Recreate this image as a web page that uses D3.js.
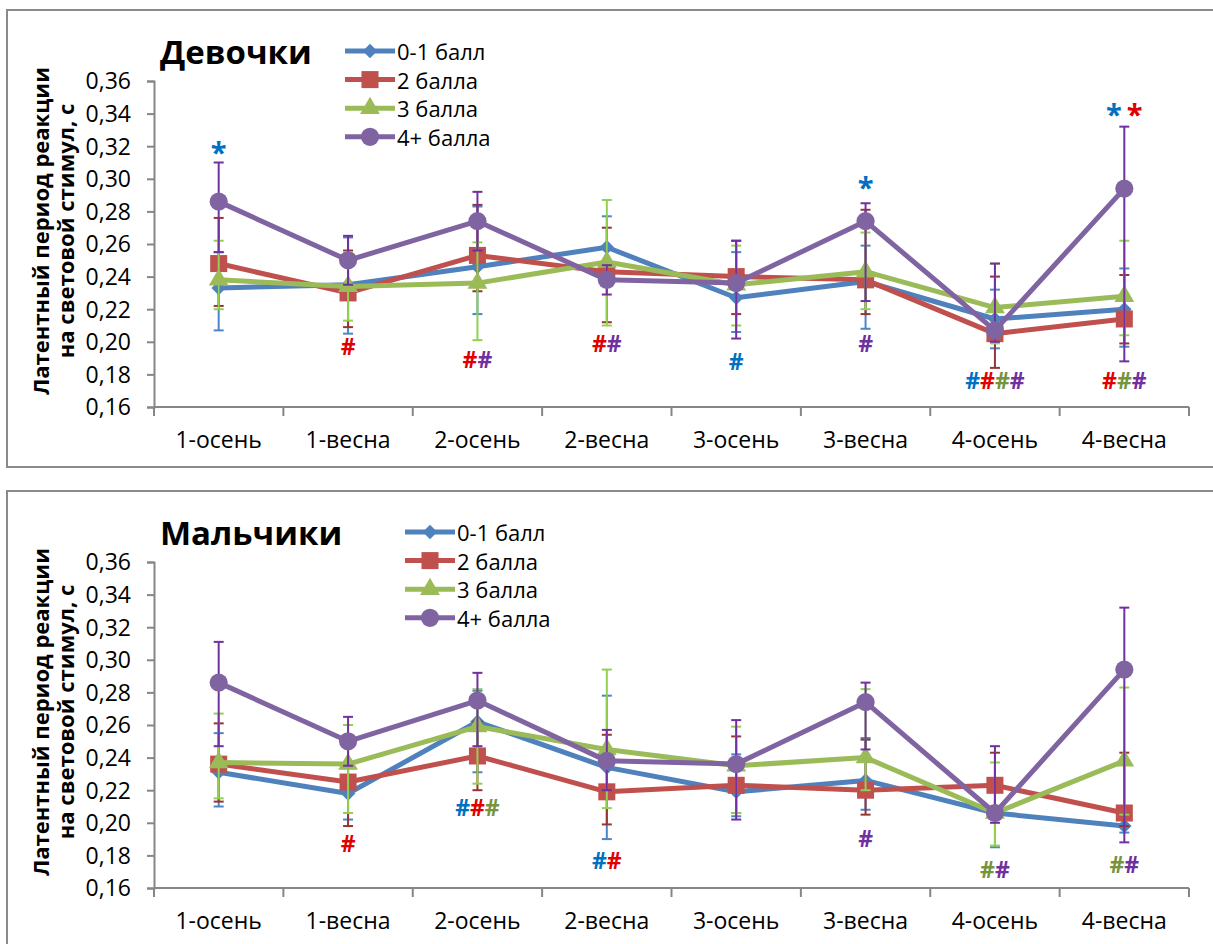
<!DOCTYPE html>
<html>
<head>
<meta charset="utf-8">
<title>Латентный период реакции</title>
<script src="https://cdn.jsdelivr.net/npm/d3@7"></script>
<style>
  body { margin: 0; background: #fff; }
  svg { display: block; font-family: "Open Sans", sans-serif; }
</style>
</head>
<body>
<svg id="chart" width="1213" height="944"></svg>
<script>
// categories and legend
var categories = ["1-осень", "1-весна", "2-осень", "2-весна", "3-осень", "3-весна", "4-осень", "4-весна"];
var seriesNames = ["0-1 балл", "2 балла", "3 балла", "4+ балла"];
var yTicks = [0.16, 0.18, 0.20, 0.22, 0.24, 0.26, 0.28, 0.30, 0.32, 0.34, 0.36];

// Девочки: mean, upper and lower whisker ends
var g01Mean = [0.233, 0.235, 0.246, 0.258, 0.227, 0.237, 0.214, 0.220];
var g01Hi   = [0.255, 0.264, 0.283, 0.277, 0.255, 0.259, 0.232, 0.245];
var g01Lo   = [0.207, 0.205, 0.217, 0.239, 0.206, 0.208, 0.196, 0.197];
var g2Mean  = [0.248, 0.230, 0.253, 0.243, 0.240, 0.238, 0.205, 0.214];
var g2Hi    = [0.276, 0.256, 0.284, 0.270, 0.262, 0.281, 0.240, 0.241];
var g2Lo    = [0.222, 0.209, 0.231, 0.212, 0.217, 0.217, 0.184, 0.199];
var g3Mean  = [0.238, 0.234, 0.236, 0.249, 0.235, 0.243, 0.221, 0.228];
var g3Hi    = [0.262, 0.255, 0.261, 0.287, 0.259, 0.267, 0.248, 0.262];
var g3Lo    = [0.220, 0.213, 0.201, 0.210, 0.210, 0.220, 0.199, 0.204];
var g4Mean  = [0.286, 0.250, 0.274, 0.238, 0.236, 0.274, 0.207, 0.294];
var g4Hi    = [0.310, 0.265, 0.292, 0.247, 0.262, 0.285, 0.248, 0.332];
var g4Lo    = [0.255, 0.235, 0.256, 0.229, 0.202, 0.225, 0.200, 0.188];

// Мальчики
var b01Mean = [0.231, 0.218, 0.262, 0.234, 0.219, 0.226, 0.206, 0.198];
var b01Hi   = [0.255, 0.234, 0.281, 0.278, 0.242, 0.252, 0.226, 0.202];
var b01Lo   = [0.210, 0.202, 0.231, 0.190, 0.204, 0.208, 0.185, 0.194];
var b2Mean  = [0.236, 0.225, 0.241, 0.219, 0.223, 0.220, 0.223, 0.206];
var b2Hi    = [0.261, 0.251, 0.262, 0.254, 0.253, 0.251, 0.243, 0.243];
var b2Lo    = [0.213, 0.198, 0.220, 0.199, 0.206, 0.205, 0.204, 0.198];
var b3Mean  = [0.237, 0.236, 0.259, 0.245, 0.235, 0.240, 0.206, 0.238];
var b3Hi    = [0.267, 0.260, 0.282, 0.294, 0.259, 0.282, 0.237, 0.283];
var b3Lo    = [0.215, 0.206, 0.224, 0.209, 0.206, 0.220, 0.186, 0.205];
var b4Mean  = [0.286, 0.250, 0.275, 0.238, 0.236, 0.274, 0.206, 0.294];
var b4Hi    = [0.311, 0.265, 0.292, 0.257, 0.263, 0.286, 0.247, 0.332];
var b4Lo    = [0.247, 0.235, 0.247, 0.220, 0.202, 0.245, 0.200, 0.188];

// significance marks: category, level (in axis units), symbol, series that it refers to
var girlsMarks = [
  ["1-осень", 0.321, "*", [0]],
  ["1-весна", 0.197, "#", [1]],
  ["2-осень", 0.189, "#", [1, 3]],
  ["2-весна", 0.199, "#", [1, 3]],
  ["3-осень", 0.188, "#", [0]],
  ["3-весна", 0.299, "*", [0]],
  ["3-весна", 0.199, "#", [3]],
  ["4-осень", 0.176, "#", [0, 1, 2, 3]],
  ["4-весна", 0.344, "*", [0, 1]],
  ["4-весна", 0.176, "#", [1, 2, 3]]
];
var boysMarks = [
  ["1-весна", 0.187, "#", [1]],
  ["2-осень", 0.209, "#", [0, 1, 2]],
  ["2-весна", 0.177, "#", [0, 1]],
  ["3-весна", 0.190, "#", [3]],
  ["4-осень", 0.171, "#", [2, 3]],
  ["4-весна", 0.174, "#", [2, 3]]
];

var lineColors = ["#4f81bd", "#c0504d", "#9bbb59", "#8064a2"];
var barColors  = ["#4a86c8", "#943634", "#92d050", "#7030a0"];
var markColors = ["#0070c0", "#e00000", "#77933c", "#7030a0"];
var symbols = [d3.symbolSquare, d3.symbolSquare, d3.symbolTriangle, d3.symbolCircle];
var symSizes = [105, 290, 170, 260];

function pack(means, his, los) {
  return seriesNames.map(function(n, i) {
    return { name: n, mean: means[i], hi: his[i], lo: los[i] };
  });
}
var girls = pack([g01Mean, g2Mean, g3Mean, g4Mean], [g01Hi, g2Hi, g3Hi, g4Hi], [g01Lo, g2Lo, g3Lo, g4Lo]);
var boys  = pack([b01Mean, b2Mean, b3Mean, b4Mean], [b01Hi, b2Hi, b3Hi, b4Hi], [b01Lo, b2Lo, b3Lo, b4Lo]);

var svg = d3.select("#chart");

function drawChart(top, title, series, marks, legendX) {
  var g = svg.append("g");
  g.append("rect")
    .attr("x", 7).attr("y", top).attr("width", 1220).attr("height", 457)
    .attr("fill", "#fff").attr("stroke", "#8a8a8a").attr("stroke-width", 2);

  var plotTop = top + 71, plotBottom = top + 397;
  var x = d3.scaleBand().domain(categories).range([154, 1189]);
  var y = d3.scaleLinear().domain([0.16, 0.36]).range([plotBottom, plotTop]);
  var cx = function(c) { return x(c) + x.bandwidth() / 2; };

  // axes
  var yAxis = g.append("g").attr("transform", "translate(154,0)")
    .call(d3.axisLeft(y).tickValues(yTicks).tickSize(7).tickPadding(16)
      .tickFormat(function(d) { return d3.format(".2f")(d).replace(".", ","); }));
  var xAxis = g.append("g").attr("transform", "translate(0," + plotBottom + ")")
    .call(d3.axisBottom(x).tickSize(0).tickPadding(25));
  xAxis.selectAll(".tick")
    .append("line")
    .attr("x1", -x.bandwidth() / 2).attr("x2", -x.bandwidth() / 2)
    .attr("y1", 0).attr("y2", 9);
  xAxis.append("line")
    .attr("x1", 1189).attr("x2", 1189).attr("y1", 0).attr("y2", 9);
  [yAxis, xAxis].forEach(function(a) {
    a.select(".domain").attr("stroke", "#868686").attr("stroke-width", 2);
    a.selectAll("line").attr("stroke", "#868686").attr("stroke-width", 2);
    a.selectAll("text").attr("fill", "#000").style("font-size", "23px")
      .style("font-family", "'Open Sans', sans-serif");
  });
  yAxis.selectAll("text").attr("dy", "0.34em");
  xAxis.select(".domain").attr("d", "M154,0H1189");

  // axis title
  var ty = (plotTop + plotBottom) / 2 - 13;
  ["Латентный период реакции", "на световой стимул, с"].forEach(function(t, i) {
    g.append("text")
      .attr("transform", "translate(" + (40 + i * 25) + "," + ty + ") rotate(-90)")
      .attr("text-anchor", "middle").attr("dominant-baseline", "central")
      .style("font-size", "22px").style("font-weight", "bold").text(t);
  });

  // chart title
  g.append("text").attr("x", 160).attr("y", top + 41)
    .attr("dominant-baseline", "central")
    .style("font-size", "33px").style("font-weight", "bold").text(title);

  // series
  var line = d3.line().x(function(d, i) { return cx(categories[i]); }).y(function(d) { return y(d); });
  series.forEach(function(s, k) {
    var bars = g.append("g").attr("stroke", barColors[k]).attr("stroke-width", 2);
    s.mean.forEach(function(m, i) {
      var px = cx(categories[i]);
      bars.append("line").attr("x1", px).attr("x2", px).attr("y1", y(s.hi[i])).attr("y2", y(s.lo[i]));
      [s.hi[i], s.lo[i]].forEach(function(v) {
        bars.append("line").attr("x1", px - 5).attr("x2", px + 5).attr("y1", y(v)).attr("y2", y(v));
      });
    });
    g.append("path").datum(s.mean).attr("d", line)
      .attr("fill", "none").attr("stroke", lineColors[k]).attr("stroke-width", 5)
      .attr("stroke-linejoin", "round");
    g.selectAll(null).data(s.mean).enter().append("path")
      .attr("d", d3.symbol().type(symbols[k]).size(symSizes[k]))
      .attr("transform", function(d, i) {
        return "translate(" + cx(categories[i]) + "," + y(d) + ")" + (k === 0 ? " rotate(45)" : "");
      })
      .attr("fill", lineColors[k]);
  });

  // significance marks
  marks.forEach(function(m) {
    var star = m[2] === "*";
    var t = g.append("text").attr("x", cx(m[0])).attr("y", y(m[1]))
      .attr("text-anchor", "middle").attr("dy", star ? "0.62em" : "0.36em")
      .style("font-size", star ? "29px" : "23px").style("font-weight", "bold");
    m[3].forEach(function(si, j) {
      t.append("tspan").attr("fill", markColors[si]).attr("dx", star && j > 0 ? 5 : 0).text(m[2]);
    });
  });

  // legend
  seriesNames.forEach(function(n, k) {
    var ly = top + 41 + k * 28.6;
    g.append("line").attr("x1", legendX).attr("x2", legendX + 50).attr("y1", ly).attr("y2", ly)
      .attr("stroke", lineColors[k]).attr("stroke-width", 5);
    g.append("path").attr("d", d3.symbol().type(symbols[k]).size(symSizes[k]))
      .attr("transform", "translate(" + (legendX + 25) + "," + ly + ")" + (k === 0 ? " rotate(45)" : ""))
      .attr("fill", lineColors[k]);
    g.append("text").attr("x", legendX + 52).attr("y", ly).attr("dominant-baseline", "central")
      .style("font-size", "22px").text(n);
  });
}

drawChart(10, "Девочки", girls, girlsMarks, 345);
drawChart(491, "Мальчики", boys, boysMarks, 405);
</script>
</body>
</html>
